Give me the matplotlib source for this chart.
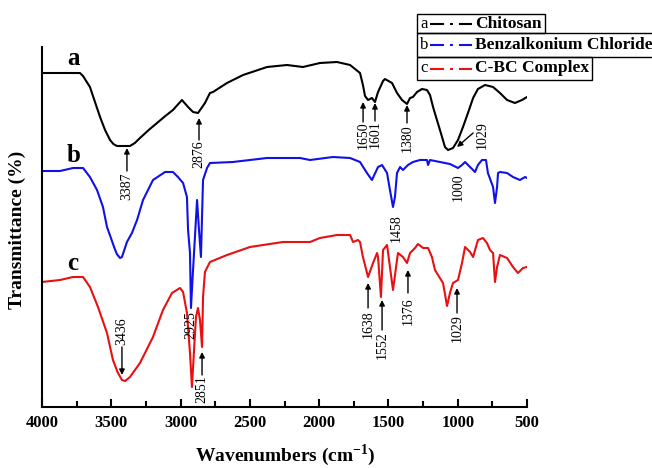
import matplotlib
matplotlib.use('Agg')
import matplotlib.pyplot as plt
from matplotlib.lines import Line2D
from matplotlib.patches import Rectangle
from matplotlib.ticker import MultipleLocator

plt.rcParams['font.family'] = 'Liberation Serif'
plt.rcParams['mathtext.fontset'] = 'custom'
plt.rcParams['mathtext.rm'] = 'Liberation Serif'
plt.rcParams['mathtext.bf'] = 'Liberation Serif:bold'

# Spectrum a: chitosan (wavenumber, transmittance in arbitrary units)
wn_a = [4000, 3870, 3726, 3704, 3654, 3620, 3581, 3545, 3509, 3485, 3459, 3365,
        3330, 3293, 3230, 3170, 3110, 3055,
        2990, 2946, 2910, 2874, 2824, 2788, 2766, 2665, 2549, 2376, 2232, 2117,
        1994, 1871, 1777, 1705, 1684, 1669, 1647, 1619, 1597, 1575, 1539, 1525,
        1474, 1438, 1402, 1366, 1344, 1323, 1294, 1258, 1222, 1200, 1178, 1150,
        1128, 1092, 1070, 1034, 998, 962, 926, 889, 854, 803, 745, 695, 644,
        587, 536, 500]
t_a = [334, 334, 334, 331, 320, 306, 290, 277, 267, 263, 261, 261,
       264, 269, 277, 284, 291, 297,
       307, 300, 295, 294, 304, 314, 315, 324, 332, 340, 342, 340,
       344, 345, 342, 334, 322, 311, 307, 309, 305, 315, 326, 328,
       324, 314, 307, 303, 309, 310, 315, 318, 317, 312, 300, 287,
       277, 260, 257, 259, 267, 280, 294, 309, 318, 322, 320, 314, 307,
       304, 307, 310]

# Spectrum b: benzalkonium chloride
wn_b = [4000, 3870, 3776, 3704, 3654, 3603, 3560, 3531, 3505, 3480, 3460, 3437, 3423, 3387,
        3351, 3314, 3271, 3199, 3112, 3055, 3019, 2982, 2954, 2946, 2932, 2925,
        2910, 2881, 2867, 2853, 2838, 2809, 2788, 2622, 2376, 2138, 2066, 1900,
        1777, 1705, 1655, 1619, 1575, 1546, 1510, 1489, 1467, 1453, 1438, 1416,
        1395, 1359, 1323, 1272, 1222, 1214, 1200, 1128, 1056, 998, 969, 947,
        911, 875, 854, 825, 796, 782, 745, 731, 716, 709, 695, 644, 601, 551,
        514, 500]
t_b = [236, 236, 239, 239, 230, 217, 200, 180, 170, 160, 153, 149, 150, 165,
       174, 187, 207, 227, 235, 235, 230, 224, 210, 177, 154, 99,
       137, 207, 177, 150, 227, 239, 244, 245, 249, 249, 247, 250,
       249, 245, 234, 227, 240, 242, 234, 217, 200, 210, 234, 240,
       237, 242, 245, 247, 247, 242, 247, 245, 243, 239, 242, 245,
       240, 235, 242, 247, 247, 234, 220, 204, 220, 234, 235, 234, 230, 227,
       230, 229]

# Spectrum c: C-BC complex
wn_c = [4000, 3870, 3776, 3704, 3654, 3596, 3531, 3488, 3455, 3423, 3400, 3365, 3293, 3199,
        3127, 3062, 3004, 2982, 2954, 2932, 2918, 2889, 2874, 2860, 2845, 2838,
        2824, 2788, 2665, 2499, 2261, 2066, 1994, 1871, 1777, 1755, 1720, 1705,
        1684, 1647, 1611, 1582, 1575, 1554, 1539, 1510, 1489, 1467, 1438, 1431,
        1395, 1366, 1344, 1308, 1287, 1250, 1214, 1186, 1164, 1142, 1106, 1077,
        1056, 1034, 998, 969, 947, 911, 889, 854, 818, 789, 767, 745, 731, 716,
        695, 644, 601, 565, 529, 500]
t_c = [125, 127, 130, 130, 120, 100, 74, 47, 35, 27, 26, 30, 44, 70,
       97, 114, 119, 115, 94, 54, 20, 90, 99, 87, 60, 110,
       135, 145, 152, 160, 165, 165, 169, 172, 172, 165, 167, 165,
       150, 130, 144, 154, 150, 110, 157, 162, 140, 117, 147, 154,
       150, 144, 154, 159, 163, 159, 159, 150, 137, 132, 124, 101,
       114, 124, 127, 144, 160, 155, 150, 167, 169, 164, 157, 154, 125, 140,
       152, 149, 140, 134, 139, 140]

# peak labels: (text, x, arrow head y, arrow tail y, text y)
peaks_a = [('3387', 3387, 259, 236, 221), ('2876', 2867, 289, 267, 253),
           ('1650', 1683, 305, 285, 272), ('1601', 1597, 304, 286, 273),
           ('1380', 1366, 302, 284, 269)]
peaks_c = [('3436', 3423, 32, 60, 76), ('2851', 2845, 55, 32, 18),
           ('1638', 1647, 124, 99, 83), ('1552', 1546, 107, 77, 62),
           ('1376', 1359, 137, 114, 96), ('1029', 1005, 119, 94, 79)]
plain_labels = [('1029', 825, 272), ('1000', 998, 220), ('1458', 1445, 179),
                ('2925', 2925, 82)]

series = [('a', 'Chitosan', wn_a, t_a, 'black', 342),
          ('b', 'Benzalkonium Chloride', wn_b, t_b, '#1010e8', 245),
          ('c', 'C-BC Complex', wn_c, t_c, '#e81010', 137)]

fig = plt.figure(figsize=(6.52, 4.68), dpi=100)
ax = fig.add_axes([42 / 652, 61 / 468, 485 / 652, 360 / 468])

for letter, name, wn, t, col, ly in series:
    ax.plot(wn, t, color=col, lw=1.5)
    ax.text(3775, ly, letter, fontsize=18, fontweight='bold', ha='center', va='baseline')

arrow = dict(arrowstyle='-|>', color='black', lw=1, mutation_scale=8, shrinkA=0, shrinkB=0)
for lab, x, head, tail, ty in peaks_a + peaks_c:
    ax.annotate('', xy=(x, head), xytext=(x, tail), arrowprops=arrow)
    ax.text(x, ty, lab, rotation=90, ha='center', va='center', fontsize=10)
for lab, x, ty in plain_labels:
    ax.text(x, ty, lab, rotation=90, ha='center', va='center', fontsize=10)
# slanted arrow near 1000 on spectrum a
ax.annotate('', xy=(1005, 260), xytext=(889, 274), arrowprops=arrow)

ax.set_xlim(4000, 500)
ax.set_ylim(0, 360)
ax.set_yticks([])
ax.xaxis.set_major_locator(MultipleLocator(500))
ax.xaxis.set_minor_locator(MultipleLocator(250))
ax.tick_params(axis='x', which='major', direction='in', length=6, width=1.5, pad=6, labelsize=12)
ax.tick_params(axis='x', which='minor', direction='in', length=4, width=1.5)
for lbl in ax.get_xticklabels():
    lbl.set_fontweight('bold')
ax.spines['top'].set_visible(False)
ax.spines['right'].set_visible(False)
ax.spines['left'].set_linewidth(1.5)
ax.spines['bottom'].set_linewidth(1.5)

fig.text(285 / 652, 1 - 455 / 468, r'Wavenumbers (cm$^{\mathbf{-1}}$)', fontsize=14,
         fontweight='bold', ha='center', va='center')
fig.text(17 / 652, 1 - 230 / 468, 'Transmittance (%)', fontsize=14, fontweight='bold',
         rotation=90, ha='center', va='center')

# stacked boxed legend, one box per row
def px(x, y):
    return x / 652, 1 - y / 468

rows = [(14, 33), (33, 57), (57, 80)]
fig.canvas.draw()
renderer = fig.canvas.get_renderer()
for (letter, name, wn, t, col, ly), (top, bot) in zip(series, rows):
    yc = (top + bot) / 2
    fig.text(*px(420, yc), letter, fontsize=12, ha='left', va='center')
    fig.add_artist(Line2D([430 / 652, 472 / 652], [px(0, yc)[1]] * 2, color=col, lw=1.5,
                          linestyle=(0, (6.7, 2.9, 1.4, 2.9))))
    txt = fig.text(*px(475, yc), name, fontsize=12.5, fontweight='bold', ha='left', va='center')
    bb = txt.get_window_extent(renderer)
    right = bb.x1 + 3
    x0, y0 = px(417, bot)
    fig.add_artist(Rectangle((x0, y0), right / 652 - x0, (bot - top) / 468,
                             transform=fig.transFigure, fill=False, lw=1, ec='black'))

fig.savefig('out.png', dpi=100)
